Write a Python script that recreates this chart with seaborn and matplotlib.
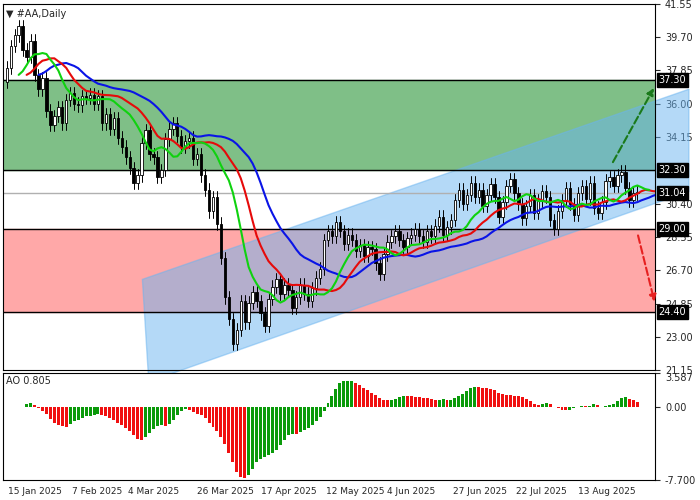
import numpy as np
import pandas as pd
import matplotlib
matplotlib.use("Agg")
import matplotlib.pyplot as plt
from matplotlib.patches import Polygon, Rectangle
import seaborn as sns

# daily closes of #AA
closes = [38.0, 39.2, 39.8, 40.3, 39.0, 38.6, 39.5, 37.6, 36.8, 37.4,
          35.6, 34.8, 35.3, 35.8, 34.9, 36.2, 36.6, 36.0, 35.9, 36.4,
          36.3, 36.5, 36.0, 36.4, 34.9, 35.4, 34.6, 35.2, 34.1, 33.6,
          33.0, 32.4, 31.6, 32.0, 33.8, 34.5, 33.2, 33.0, 31.9, 32.3,
          34.0, 34.6, 34.9, 34.2, 33.6, 33.9, 34.1, 32.9, 33.2, 32.0,
          31.2, 30.0, 30.8, 29.3, 27.4, 25.2, 24.0, 22.6, 23.4, 25.0,
          23.8, 24.9, 25.5, 25.0, 24.3, 23.6, 25.1, 25.8, 26.2, 25.4,
          25.9, 25.6, 24.6, 25.2, 25.9, 25.4, 25.0, 25.7, 26.3, 26.8,
          28.4, 28.9, 28.6, 29.4, 28.9, 28.2, 28.7, 28.4, 27.8, 28.1,
          27.5, 28.0, 27.9, 27.1, 26.5, 27.6, 28.3, 28.6, 28.9, 28.4,
          28.0, 28.5, 28.7, 29.0, 28.6, 28.3, 28.9, 28.6, 29.2, 29.7,
          28.7, 29.1, 29.5, 30.6, 31.2, 30.4, 30.9, 31.6, 30.8, 31.2,
          30.3, 30.9, 31.5, 30.8, 29.7, 30.5, 31.4, 31.8, 31.0, 30.4,
          29.6, 30.3, 30.9, 29.9, 30.6, 31.1, 30.8, 29.5, 29.0, 30.0,
          30.6, 31.3, 30.4, 29.8, 31.0, 31.4, 30.7, 31.6, 30.2, 29.9,
          30.5, 31.7, 31.9, 31.4, 32.0, 32.2, 31.3, 30.6, 31.0, 31.04]
first_open = 37.2
wick = 0.35

date_labels = ["15 Jan 2025", "7 Feb 2025", "4 Mar 2025", "26 Mar 2025", "17 Apr 2025",
               "12 May 2025", "4 Jun 2025", "27 Jun 2025", "22 Jul 2025", "13 Aug 2025"]
date_pos = [0.3, 16.5, 30.5, 48, 64, 80.5, 96, 112.5, 128.5, 144]

price_ticks = [41.55, 39.70, 37.85, 36.00, 34.15, 30.40, 28.55, 26.70, 24.85, 23.00, 21.15]
levels = [37.30, 32.30, 31.04, 29.00, 24.40]
buy_zone = (32.30, 37.30)
sell_zone = (24.40, 29.00)

df = pd.DataFrame({"close": closes})
df["open"] = [first_open] + closes[:-1]
df["high"] = df[["open", "close"]].max(axis=1) + wick
df["low"] = df[["open", "close"]].min(axis=1) - wick
df["bar"] = np.arange(len(df))
median = (df["high"] + df["low"]) / 2

sns.set_style("white")
plt.rcParams["font.family"] = ["DejaVu Sans"]
fig = plt.figure(figsize=(7, 5), dpi=100)
ax = fig.add_axes([0.004, 0.26, 0.932, 0.732])
ax2 = fig.add_axes([0.004, 0.04, 0.932, 0.214], sharex=ax)

xmax = 163.5
ax.set_xlim(-1, xmax)
ax.set_ylim(21.15, 41.55)

ax.add_patch(Rectangle((-1, buy_zone[0]), xmax + 1, buy_zone[1] - buy_zone[0], color="#7fbf87", zorder=0))
ax.add_patch(Rectangle((-1, sell_zone[0]), xmax + 1, sell_zone[1] - sell_zone[0], color="#ffa8a8", zorder=0))
ax.add_patch(Polygon([(34.2, 26.2), (35.8, 20.5), (172, 31.1), (172, 36.8)],
                     closed=True, color="#6ab4f0", alpha=0.5, zorder=1, clip_on=False))
for lv in [37.30, 32.30, 29.00, 24.40]:
    ax.axhline(lv, color="black", lw=1, zorder=2)
ax.axhline(31.04, color="#b0b0b0", lw=1, zorder=2)

# candles
for _, r in df.iterrows():
    up = r["close"] >= r["open"]
    lo, hi = sorted([r["open"], r["close"]])
    ax.plot([r["bar"], r["bar"]], [r["low"], r["high"]], color="black", lw=0.7, zorder=3)
    ax.add_patch(Rectangle((r["bar"] - 0.3, lo), 0.6, max(hi - lo, 0.05),
                           facecolor="white" if up else "black", edgecolor="black", lw=0.6, zorder=4))

# alligator
for n, shift, col in [(13, 8, "#0a14e6"), (8, 5, "#e60a0a"), (5, 3, "#0fd20f")]:
    line = pd.DataFrame({"bar": df["bar"] + shift, "v": median.ewm(alpha=1 / n, adjust=False).mean()})
    sns.lineplot(data=line, x="bar", y="v", ax=ax, color=col, lw=1.5, zorder=5)

ax.annotate("", xy=(163.5, 37.0), xytext=(152.5, 32.6),
            arrowprops=dict(arrowstyle="-|>", ls="--", color="#1a7a1a", lw=1.5), annotation_clip=False)
ax.annotate("", xy=(163.5, 24.8), xytext=(159, 28.8),
            arrowprops=dict(arrowstyle="-|>", ls="--", color="#e62020", lw=1.5), annotation_clip=False)

ax.yaxis.tick_right()
ax.set_yticks(price_ticks)
ax.set_yticklabels([f"{t:.2f}" for t in price_ticks], fontsize=7)
for lv in levels:
    ax.text(1.005, (lv - 21.15) / (41.55 - 21.15), f"{lv:.2f}", transform=ax.transAxes,
            fontsize=7, color="white", va="center", ha="left",
            bbox=dict(boxstyle="square,pad=0.2", fc="black", ec="black"))
ax.text(0.005, 0.985, "\u25bc #AA,Daily", transform=ax.transAxes, fontsize=7, va="top")
ax.set_xlabel("")
ax.set_ylabel("")
ax.tick_params(axis="x", labelbottom=False, length=0)

# awesome oscillator
ao = median.rolling(5, min_periods=1).mean() - median.rolling(34, min_periods=1).mean()
ao_col = ["#0a9a0a" if i > 0 and ao[i] >= ao[i - 1] else "#f01010" for i in range(len(ao))]
ax2.bar(df["bar"], ao, width=0.75, color=ao_col, linewidth=0, antialiased=False)
ax2.set_ylim(-7.7, 3.587)
ax2.yaxis.tick_right()
ax2.set_yticks([3.587, 0.0, -7.7])
ax2.set_yticklabels(["3.587", "0.00", "-7.700"], fontsize=7)
ax2.get_yticklabels()[0].set_va("top")
ax2.text(0.005, 0.97, "AO 0.805", transform=ax2.transAxes, fontsize=7, va="top")
ax2.set_xticks(date_pos)
ax2.set_xticklabels(date_labels, fontsize=6.5, ha="left")
ax2.tick_params(axis="x", length=3, pad=2)
for a in (ax, ax2):
    for s in a.spines.values():
        s.set_color("black")
        s.set_linewidth(0.8)

fig.savefig("out.png")
